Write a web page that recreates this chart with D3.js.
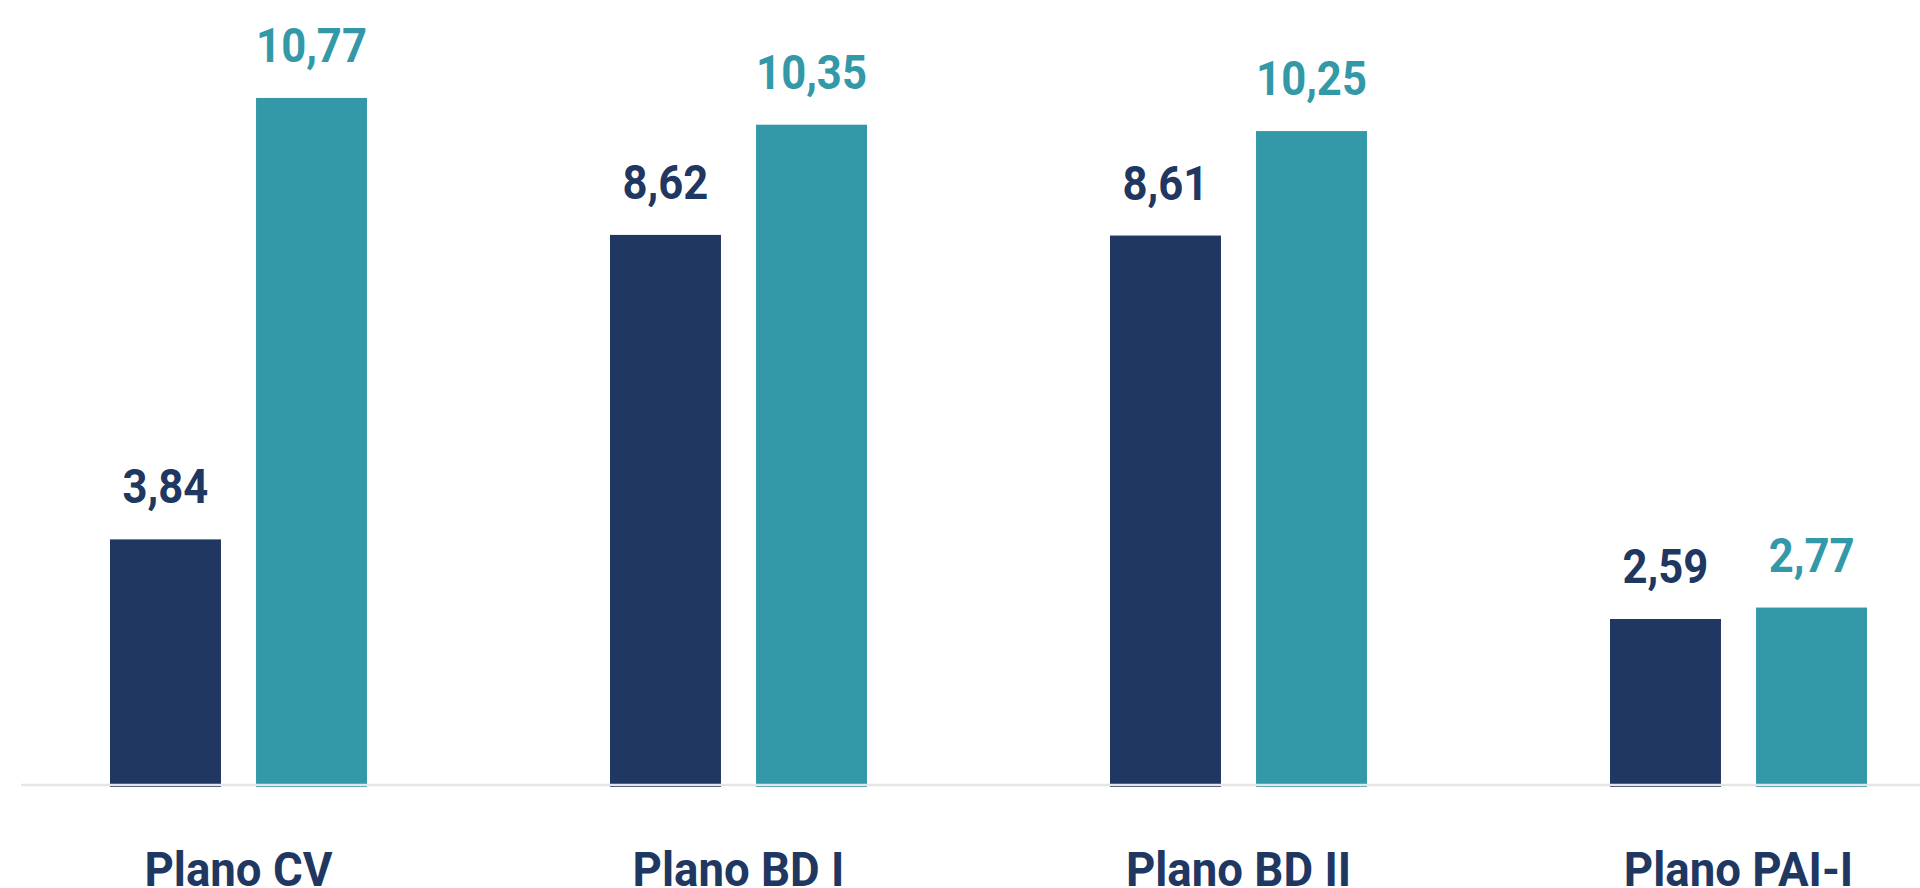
<!DOCTYPE html>
<html>
  <head>
    <meta charset="utf-8">
    <title></title>
  </head>
  <style>
  body{
      font-family: "Roboto";
      background-color: #fff;
      margin:0;
      padding:0;
      overflow: hidden
    }
    .label {
      font-weight: 700;
      text-anchor: middle
    }
  </style>
  <script src="https://d3js.org/d3.v7.min.js"></script>
  <body>
    <script>
    // categories and values
    const planos = ["Plano CV", "Plano BD I", "Plano BD II", "Plano PAI-I"]
    const series = ["s1", "s2"]
    const valoresS1 = [3.84, 8.62, 8.61, 2.59]
    const valoresS2 = [10.77, 10.35, 10.25, 2.77]

    var width = 1920
    var height = 888
    var baseY = 784

    var colors = ["#203762", "#3399a8"]

    var data = planos.map(function(p, i){
        return { plano: p, values: [valoresS1[i], valoresS2[i]] }
    })

    var svg = d3.select("body")
                .append("svg")
                .attr("width", width)
                .attr("height", height)

    // x scales
    var x0 = d3.scaleBand()
               .domain(planos)
               .range([110, 1867])
               .paddingInner(0.486)
               .paddingOuter(0)

    var x1 = d3.scaleBand()
               .domain(series)
               .range([0, x0.bandwidth()])
               .paddingInner(0.24)
               .paddingOuter(0)

    // y scale
    var y = d3.scaleLinear()
              .domain([0, 12])
              .range([baseY, baseY - 12 * 63.7])

    var groups = svg.append("g").selectAll("g")
        .data(data)
        .enter()
        .append("g")
        .attr("transform", function(d){ return `translate(${x0(d.plano)},0)` })

    // bars
    groups.selectAll("rect")
        .data(function(d){ return d.values.map(function(v, i){ return {s: series[i], v: v, i: i} }) })
        .enter()
        .append("rect")
        .attr("x", function(d){ return x1(d.s) })
        .attr("y", function(d){ return y(d.v) })
        .attr("width", x1.bandwidth())
        .attr("height", function(d){ return y(0) - y(d.v) + 3 })
        .attr("fill", function(d){ return colors[d.i] })

    // value labels (narrowed a bit to look like the condensed original)
    groups.selectAll("text")
        .data(function(d){ return d.values.map(function(v, i){ return {s: series[i], v: v, i: i} }) })
        .enter()
        .append("text")
        .attr("class", "label")
        .attr("transform", function(d){
            return `translate(${x1(d.s) + x1.bandwidth() / 2},${y(d.v) - 36}) scale(0.89,1)`
        })
        .attr("font-size", "49px")
        .attr("fill", function(d){ return colors[d.i] })
        .text(function(d){ return d3.format(".2f")(d.v).replace(".", ",") })

    // baseline
    svg.append("line")
        .attr("x1", 21)
        .attr("x2", width)
        .attr("y1", baseY + 1)
        .attr("y2", baseY + 1)
        .attr("stroke", "#e6e6e6")
        .attr("stroke-width", 2.5)

    // x axis labels
    var xAxis = d3.axisBottom(x0).tickSize(0).tickPadding(0)
    var axisG = svg.append("g")
        .attr("transform", "translate(0," + baseY + ")")
        .call(xAxis)
    axisG.select(".domain").remove()
    axisG.selectAll(".tick text")
        .attr("class", "label")
        .attr("dy", null)
        .attr("y", null)
        .attr("transform", "translate(0,102) scale(0.95,1)")
        .attr("font-size", "48px")
        .attr("font-family", "Roboto")
        .attr("fill", colors[0])
    </script>
  </body>
</html>
